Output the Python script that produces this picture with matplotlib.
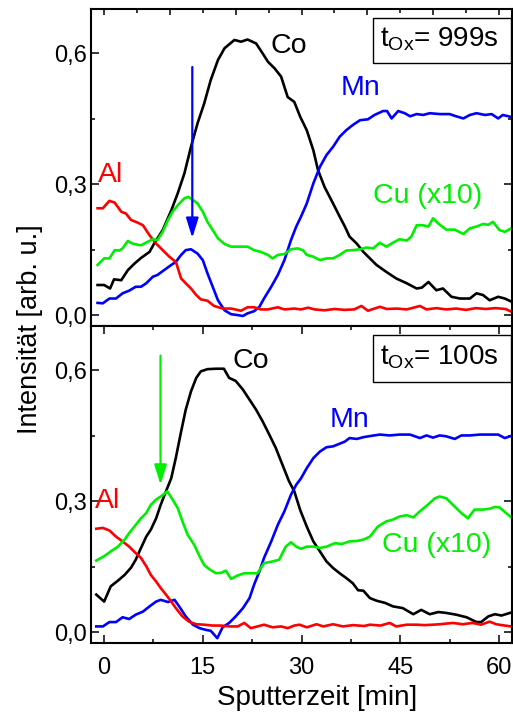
import numpy as np
import matplotlib
matplotlib.use("Agg")
import matplotlib.pyplot as plt
from matplotlib.ticker import MultipleLocator, FixedLocator, FuncFormatter
from matplotlib.patches import Rectangle

plt.rcParams["font.family"] = ["Liberation Sans", "DejaVu Sans"]
plt.rcParams["mathtext.fontset"] = "custom"
plt.rcParams["mathtext.rm"] = "Liberation Sans"
plt.rcParams["mathtext.it"] = "Liberation Sans:italic"

# ---- depth profiles, t_Ox = 999 s: (sputter time [min], intensity [arb. u.]) ----
co_999 = [(-1.0, 0.069), (0.0, 0.069), (0.9, 0.061), (1.5, 0.082), (2.6, 0.080), (3.6, 0.103),
          (4.6, 0.118), (5.6, 0.131), (6.9, 0.145), (7.6, 0.164), (8.9, 0.195), (10.2, 0.240),
          (11.2, 0.280), (12.2, 0.325), (13.2, 0.386), (14.2, 0.440), (15.2, 0.485), (16.2, 0.539),
          (17.3, 0.585), (18.3, 0.612), (19.8, 0.631), (20.8, 0.627), (21.8, 0.632), (23.1, 0.623),
          (24.1, 0.600), (24.9, 0.581), (25.9, 0.566), (26.9, 0.547), (27.9, 0.500), (28.9, 0.489),
          (29.8, 0.455), (30.8, 0.424), (31.8, 0.378), (32.5, 0.333), (33.5, 0.294), (34.8, 0.256),
          (35.8, 0.226), (36.6, 0.203), (37.3, 0.180), (38.4, 0.164), (39.4, 0.145), (40.4, 0.130),
          (41.4, 0.115), (42.9, 0.099), (44.4, 0.084), (46.0, 0.073), (47.5, 0.061), (48.3, 0.063),
          (49.3, 0.076), (50.5, 0.057), (51.5, 0.061), (52.8, 0.042), (54.1, 0.038), (55.6, 0.038),
          (56.6, 0.050), (57.6, 0.046), (58.6, 0.034), (59.9, 0.042), (60.9, 0.038), (61.9, 0.031)]

mn_999 = [(-1.0, 0.028), (-0.2, 0.027), (0.8, 0.038), (1.8, 0.038), (2.8, 0.050), (3.8, 0.056),
          (4.8, 0.065), (5.6, 0.065), (6.4, 0.073), (7.4, 0.088), (8.1, 0.092), (9.1, 0.103),
          (10.2, 0.115), (10.9, 0.122), (11.7, 0.138), (12.4, 0.149), (13.2, 0.151), (14.2, 0.141),
          (15.0, 0.126), (15.7, 0.096), (16.5, 0.065), (17.3, 0.034), (18.3, 0.011), (19.3, 0.002),
          (20.3, 0.000), (21.1, -0.002), (21.8, 0.004), (22.8, 0.009), (23.6, 0.019), (24.3, 0.038),
          (25.4, 0.065), (26.4, 0.092), (27.4, 0.126), (28.4, 0.172), (29.2, 0.203), (29.9, 0.225),
          (30.8, 0.256), (31.8, 0.302), (32.8, 0.340), (33.8, 0.367), (34.8, 0.386), (35.8, 0.409),
          (36.8, 0.424), (37.8, 0.436), (38.9, 0.447), (40.1, 0.449), (41.1, 0.459), (42.4, 0.468),
          (43.0, 0.468), (43.7, 0.451), (44.7, 0.468), (45.7, 0.463), (46.5, 0.456), (47.5, 0.461),
          (48.5, 0.459), (49.5, 0.463), (51.0, 0.461), (52.5, 0.461), (53.5, 0.456), (54.6, 0.451),
          (55.6, 0.459), (56.6, 0.463), (57.9, 0.459), (58.9, 0.461), (59.9, 0.451), (60.6, 0.459),
          (61.7, 0.455)]

al_999 = [(-1.0, 0.245), (-0.2, 0.245), (0.8, 0.262), (1.6, 0.258), (2.6, 0.237), (3.3, 0.233),
          (4.1, 0.218), (5.1, 0.212), (5.9, 0.206), (6.9, 0.183), (7.9, 0.164), (8.9, 0.149),
          (9.9, 0.134), (10.9, 0.122), (11.7, 0.084), (12.4, 0.073), (13.2, 0.061), (14.0, 0.046),
          (14.7, 0.036), (15.7, 0.033), (16.7, 0.021), (18.0, 0.015), (19.3, 0.015), (20.8, 0.010),
          (21.8, 0.018), (22.8, 0.018), (23.8, 0.013), (24.9, 0.013), (26.4, 0.018), (27.4, 0.013),
          (28.9, 0.015), (29.9, 0.013), (31.0, 0.017), (32.0, 0.013), (33.5, 0.011), (35.0, 0.014),
          (36.5, 0.012), (38.0, 0.013), (39.1, 0.021), (40.1, 0.010), (41.9, 0.019), (43.0, 0.014),
          (44.5, 0.015), (46.0, 0.013), (48.0, 0.021), (49.0, 0.013), (50.5, 0.016), (52.0, 0.013),
          (53.5, 0.015), (55.0, 0.012), (56.5, 0.016), (58.0, 0.014), (59.5, 0.016), (61.0, 0.014),
          (61.9, 0.008)]

cu_999 = [(-1.0, 0.115), (0.0, 0.130), (0.8, 0.130), (1.6, 0.149), (2.3, 0.148), (2.8, 0.153),
          (3.6, 0.170), (4.3, 0.164), (5.6, 0.160), (6.6, 0.168), (7.4, 0.174), (8.1, 0.172),
          (8.9, 0.191), (9.7, 0.218), (10.4, 0.237), (11.2, 0.252), (12.2, 0.268), (12.8, 0.271),
          (13.5, 0.264), (14.2, 0.256), (15.0, 0.237), (15.7, 0.214), (16.5, 0.195), (17.3, 0.176),
          (18.3, 0.163), (19.3, 0.157), (20.5, 0.157), (21.8, 0.157), (22.8, 0.149), (23.8, 0.145),
          (24.9, 0.138), (25.6, 0.130), (26.4, 0.138), (27.4, 0.140), (28.4, 0.151), (29.4, 0.153),
          (30.2, 0.149), (30.8, 0.138), (31.8, 0.134), (32.8, 0.126), (33.8, 0.130), (34.8, 0.130),
          (35.8, 0.138), (36.8, 0.148), (37.8, 0.149), (38.9, 0.151), (39.9, 0.155), (40.9, 0.153),
          (41.9, 0.166), (42.9, 0.157), (43.9, 0.166), (44.9, 0.174), (46.0, 0.171), (46.7, 0.180),
          (47.5, 0.206), (48.5, 0.206), (49.3, 0.203), (50.0, 0.222), (50.8, 0.210), (52.0, 0.196),
          (53.3, 0.196), (54.6, 0.186), (55.6, 0.199), (56.6, 0.203), (57.6, 0.209), (58.4, 0.207),
          (59.1, 0.214), (60.1, 0.195), (60.9, 0.191), (61.9, 0.199)]

# ---- depth profiles, t_Ox = 100 s ----
co_100 = [(-1.2, 0.086), (0.0, 0.070), (1.0, 0.105), (2.1, 0.118), (3.1, 0.131), (4.1, 0.148),
          (4.8, 0.166), (5.6, 0.193), (6.4, 0.219), (7.1, 0.235), (7.9, 0.261), (8.6, 0.292),
          (9.4, 0.323), (10.2, 0.353), (10.9, 0.400), (11.7, 0.460), (12.4, 0.510), (13.2, 0.552),
          (14.0, 0.583), (14.7, 0.598), (15.7, 0.603), (17.0, 0.604), (18.2, 0.604), (19.0, 0.583),
          (20.0, 0.576), (21.1, 0.556), (22.1, 0.533), (23.1, 0.510), (24.1, 0.483), (25.1, 0.453),
          (26.1, 0.422), (27.1, 0.384), (28.1, 0.346), (28.9, 0.323), (29.8, 0.280), (30.8, 0.242),
          (31.8, 0.208), (32.8, 0.185), (33.8, 0.162), (34.8, 0.147), (35.8, 0.135), (36.8, 0.124),
          (37.8, 0.112), (38.6, 0.096), (39.4, 0.095), (40.4, 0.078), (41.4, 0.072), (42.7, 0.067),
          (43.9, 0.059), (45.4, 0.055), (47.0, 0.041), (48.2, 0.051), (49.5, 0.041), (50.8, 0.046),
          (52.0, 0.044), (53.5, 0.040), (55.1, 0.034), (56.6, 0.023), (57.3, 0.023), (58.4, 0.036),
          (59.4, 0.041), (60.4, 0.038), (61.7, 0.044)]

mn_100 = [(-1.2, 0.013), (-0.2, 0.013), (0.8, 0.023), (1.8, 0.023), (2.8, 0.034), (3.8, 0.030),
          (4.8, 0.040), (5.9, 0.047), (6.9, 0.059), (7.9, 0.070), (8.6, 0.074), (9.7, 0.069),
          (10.7, 0.074), (11.4, 0.059), (12.4, 0.036), (13.5, 0.017), (14.5, 0.009), (15.5, 0.005),
          (16.2, 0.003), (17.2, -0.014), (18.0, 0.011), (19.0, 0.021), (20.0, 0.036), (21.1, 0.055),
          (22.1, 0.078), (22.8, 0.109), (23.6, 0.139), (24.3, 0.170), (25.4, 0.208), (26.4, 0.246),
          (27.4, 0.277), (28.4, 0.315), (29.2, 0.338), (29.9, 0.352), (30.8, 0.376), (31.8, 0.399),
          (32.8, 0.414), (33.8, 0.424), (34.8, 0.426), (35.8, 0.432), (36.6, 0.437), (37.3, 0.445),
          (38.4, 0.443), (39.4, 0.447), (40.6, 0.450), (41.9, 0.453), (43.4, 0.451), (44.9, 0.453),
          (46.5, 0.453), (48.0, 0.445), (49.0, 0.451), (50.0, 0.446), (51.0, 0.451), (52.0, 0.449),
          (53.3, 0.443), (54.3, 0.451), (55.6, 0.451), (57.1, 0.453), (58.6, 0.453), (59.9, 0.453),
          (60.9, 0.445), (61.9, 0.450)]

al_100 = [(-1.2, 0.237), (-0.2, 0.239), (0.8, 0.233), (1.8, 0.219), (2.8, 0.208), (3.8, 0.196),
          (4.8, 0.181), (5.6, 0.170), (6.4, 0.151), (7.1, 0.131), (7.9, 0.116), (8.6, 0.101),
          (9.4, 0.086), (10.2, 0.070), (10.9, 0.055), (11.9, 0.036), (12.9, 0.024), (14.0, 0.018),
          (15.2, 0.017), (16.5, 0.015), (17.8, 0.015), (19.0, 0.013), (20.3, 0.013), (21.3, 0.021),
          (22.3, 0.009), (23.3, 0.013), (24.3, 0.017), (25.6, 0.011), (26.9, 0.013), (27.9, 0.009),
          (28.9, 0.015), (29.7, 0.017), (30.8, 0.011), (32.3, 0.018), (33.3, 0.013), (34.8, 0.018),
          (36.3, 0.013), (37.8, 0.016), (39.5, 0.014), (40.4, 0.017), (42.0, 0.015), (43.4, 0.021),
          (44.4, 0.013), (46.0, 0.017), (47.5, 0.017), (48.7, 0.016), (50.0, 0.017), (51.0, 0.018),
          (53.0, 0.021), (54.5, 0.018), (56.0, 0.021), (57.3, 0.017), (58.6, 0.024), (59.6, 0.018),
          (60.9, 0.015), (61.9, 0.013)]

cu_100 = [(-1.2, 0.164), (0.0, 0.174), (1.0, 0.185), (2.1, 0.196), (3.1, 0.212), (3.8, 0.227),
          (4.6, 0.242), (5.6, 0.261), (6.4, 0.273), (7.1, 0.292), (7.9, 0.304), (8.6, 0.311),
          (9.6, 0.323), (10.4, 0.304), (11.2, 0.284), (11.9, 0.254), (12.7, 0.223), (13.7, 0.200),
          (14.5, 0.174), (15.2, 0.154), (16.0, 0.144), (17.0, 0.135), (17.8, 0.136), (18.5, 0.141),
          (19.3, 0.122), (20.3, 0.130), (21.3, 0.135), (22.3, 0.135), (23.3, 0.135), (24.3, 0.158),
          (25.6, 0.162), (26.6, 0.166), (27.6, 0.196), (28.4, 0.206), (29.2, 0.196), (29.9, 0.191),
          (30.8, 0.196), (31.8, 0.196), (32.8, 0.193), (33.8, 0.196), (35.1, 0.204), (36.1, 0.202),
          (37.3, 0.208), (38.4, 0.209), (39.4, 0.212), (40.4, 0.219), (41.6, 0.242), (42.9, 0.254),
          (43.9, 0.258), (44.9, 0.265), (46.0, 0.268), (47.0, 0.263), (48.0, 0.277), (49.2, 0.292),
          (50.3, 0.307), (51.0, 0.311), (52.0, 0.307), (53.0, 0.292), (54.3, 0.273), (55.3, 0.261),
          (56.3, 0.281), (57.6, 0.281), (58.6, 0.283), (59.4, 0.287), (60.1, 0.286), (61.1, 0.273),
          (61.9, 0.263)]

elements = ["Co", "Mn", "Al", "Cu (x10)"]
colors = ["#000000", "#0000ff", "#ff0000", "#00ee00"]
oxidation_labels = ["999s", "100s"]
x_ticks = [0, 15, 30, 45, 60]
y_ticks = [0.0, 0.3, 0.6]

W, H = 513, 713
fig = plt.figure(figsize=(W / 100, H / 100), dpi=100)
ax_top = fig.add_axes([91 / W, 1 - 326 / H, 421 / W, 317 / H])
ax_bot = fig.add_axes([91 / W, 1 - 643 / H, 421 / W, 317 / H])

comma = FuncFormatter(lambda v, p: f"{v:.1f}".replace(".", ","))

panels = [
    (ax_top, [co_999, mn_999, al_999, cu_999]),
    (ax_bot, [co_100, mn_100, al_100, cu_100]),
]

for ax, series in panels:
    for data, c in zip(series, colors):
        arr = np.array(data)
        ax.plot(arr[:, 0], arr[:, 1], color=c, lw=1.9, solid_joinstyle="round")
    ax.set_xlim(-2, 62)
    ax.set_ylim(-0.025, 0.702)
    ax.yaxis.set_major_locator(FixedLocator(y_ticks))
    ax.yaxis.set_minor_locator(MultipleLocator(0.15))
    ax.yaxis.set_major_formatter(comma)
    for s in ax.spines.values():
        s.set_linewidth(1.5)
    ax.tick_params(axis="y", which="major", direction="in", length=5.5, width=1.1,
                   left=True, right=True, labelsize=17, pad=3)
    ax.tick_params(axis="y", which="minor", direction="in", length=3, width=1.1,
                   left=True, right=True)

# top panel: time axis ticks only along its upper edge
ax_top.xaxis.set_major_locator(MultipleLocator(10))
ax_top.xaxis.set_minor_locator(MultipleLocator(5))
ax_top.tick_params(axis="x", which="major", direction="in", length=4.5, width=1.1,
                   top=True, bottom=False, labelbottom=False)
ax_top.tick_params(axis="x", which="minor", direction="in", length=3, width=1.1,
                   top=True, bottom=False)

ax_bot.xaxis.set_major_locator(FixedLocator(x_ticks))
ax_bot.xaxis.set_minor_locator(MultipleLocator(7.5))
ax_bot.tick_params(axis="x", which="major", direction="in", length=5.5, width=1.1,
                   top=True, bottom=True, labelsize=17, pad=10)
ax_bot.tick_params(axis="x", which="minor", direction="in", length=3, width=1.1,
                   top=True, bottom=True)

# element labels (left edge, baseline) in data coordinates
label_pos_top = [(25.3, 0.601), (36.0, 0.505), (-1.0, 0.305), (40.8, 0.257)]
label_pos_bot = [(19.5, 0.606), (34.2, 0.471), (-1.4, 0.285), (42.2, 0.184)]
for ax, positions in [(ax_top, label_pos_top), (ax_bot, label_pos_bot)]:
    for name, c, (lx, ly) in zip(elements, colors, positions):
        ax.text(lx, ly, name, color=c, fontsize=20.5, ha="left", va="baseline")

# oxidation-time boxes
for ax, t_ox, y0, h, yb in [(ax_top, oxidation_labels[0], 0.830, 0.142, 0.881),
                            (ax_bot, oxidation_labels[1], 0.823, 0.148, 0.877)]:
    ax.add_patch(Rectangle((0.67, y0), 0.328, h, transform=ax.transAxes,
                           facecolor="white", edgecolor="black", lw=1.0, zorder=5))
    ax.text(0.687, yb, r"$\mathrm{t_{Ox}}$= " + t_ox, transform=ax.transAxes,
            fontsize=20, ha="left", va="baseline", zorder=6)

# arrows marking the interface
arrow_style = "-|>,head_length=0.8,head_width=0.25"
ax_top.annotate("", xy=(13.4, 0.177), xytext=(13.4, 0.569),
                arrowprops=dict(arrowstyle=arrow_style, color="#0000ff", lw=1.6,
                                shrinkA=0, shrinkB=0, mutation_scale=15))
ax_bot.annotate("", xy=(8.57, 0.338), xytext=(8.57, 0.634),
                arrowprops=dict(arrowstyle=arrow_style, color="#00ee00", lw=1.6,
                                shrinkA=0, shrinkB=0, mutation_scale=15))

fig.text(30 / W, 1 - 329 / H, "Intensität [arb. u.]", rotation=90, fontsize=19.5,
         ha="center", va="center")
fig.text(317.5 / W, 1 - 705 / H, "Sputterzeit [min]", fontsize=20,
         ha="center", va="baseline")

fig.savefig("out.png", dpi=100)
